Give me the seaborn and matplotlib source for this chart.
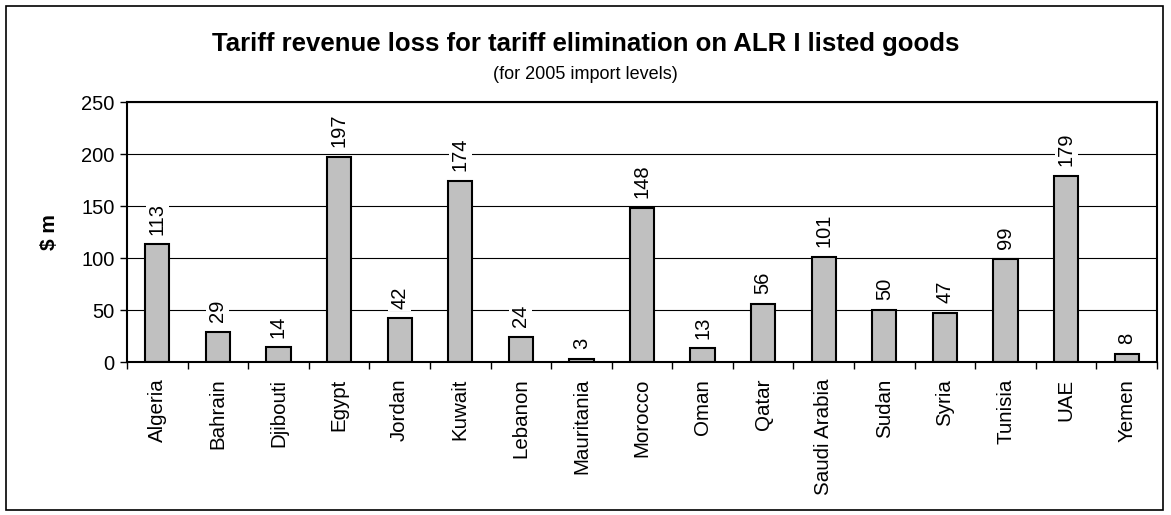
import numpy as np
import pandas as pd
import matplotlib.pyplot as plt
import seaborn as sns
from matplotlib.patches import Rectangle

# data
countries = ['Algeria', 'Bahrain', 'Djibouti', 'Egypt', 'Jordan', 'Kuwait', 'Lebanon',
             'Mauritania', 'Morocco', 'Oman', 'Qatar', 'Saudi Arabia', 'Sudan', 'Syria',
             'Tunisia', 'UAE', 'Yemen']
loss = [113, 29, 14, 197, 42, 174, 24, 3, 148, 13, 56, 101, 50, 47, 99, 179, 8]
yticks = [0, 50, 100, 150, 200, 250]

sns.set_style("white")
plt.rcParams['font.family'] = ['Liberation Sans', 'DejaVu Sans']
plt.rcParams['text.color'] = 'black'
plt.rcParams['axes.labelcolor'] = 'black'
plt.rcParams['xtick.color'] = 'black'
plt.rcParams['ytick.color'] = 'black'

df = pd.DataFrame({'country': countries, 'loss': loss})

fig = plt.figure(figsize=(11.71, 5.15), dpi=100)
ax = fig.add_axes([127 / 1171, 1 - 362 / 515, 1030 / 1171, 260 / 515])

sns.barplot(data=df, x='country', y='loss', color='#C0C0C0', saturation=1,
            edgecolor='black', linewidth=1.5, width=0.4, ax=ax, zorder=2)

ax.set_ylim(0, 250)
ax.set_xlim(-0.5, len(countries) - 0.5)
ax.set_yticks(yticks)
ax.yaxis.grid(True, color='black', linewidth=0.8, zorder=0)
ax.set_axisbelow(True)

for s in ax.spines.values():
    s.set_color('black')
    s.set_linewidth(1.5)
    s.set_visible(True)

ax.tick_params(axis='y', direction='out', length=5, width=1, labelsize=14.5, left=True, pad=4)
ax.tick_params(axis='x', which='major', length=0, labelsize=14.8, rotation=90, pad=12)
ax.set_xticks(np.arange(-0.5, len(countries), 1), minor=True)
ax.tick_params(axis='x', which='minor', direction='out', length=5, width=1, bottom=True)

ax.set_xlabel('')
ax.set_ylabel('$ m', fontsize=15, fontweight='bold', labelpad=16)

for c in ax.containers:
    ax.bar_label(c, labels=[str(v) for v in loss], rotation=90, padding=7, fontsize=14.5,
                 bbox=dict(facecolor='white', edgecolor='none', pad=1.5), zorder=3)

fig.text(0.5, 1 - 44 / 515, 'Tariff revenue loss for tariff elimination on ALR I listed goods',
         ha='center', va='center', fontsize=18.5, fontweight='bold')
fig.text(0.5, 1 - 75 / 515, '(for 2005 import levels)', ha='center', va='center', fontsize=13)

fig.patches.append(Rectangle((6 / 1171, 5 / 515), 1157 / 1171, 504 / 515,
                             transform=fig.transFigure, fill=False,
                             edgecolor='black', linewidth=1.2))

fig.savefig('out.png', dpi=100)
